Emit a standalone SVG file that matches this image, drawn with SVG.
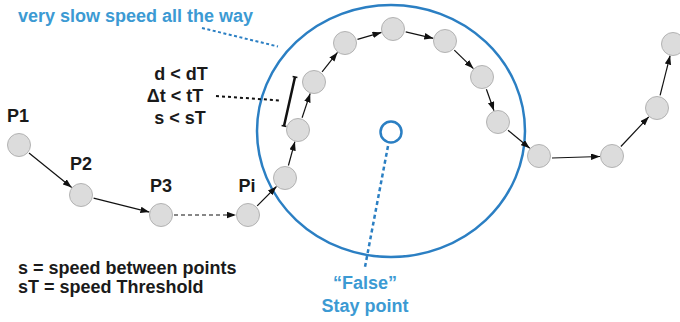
<svg xmlns="http://www.w3.org/2000/svg" width="680" height="322" viewBox="0 0 680 322">
  <defs>
    <marker id="arrow" markerUnits="userSpaceOnUse" markerWidth="10" markerHeight="7" refX="9" refY="3.25" orient="auto">
      <path d="M0,0 L9,3.25 L0,6.5 z" fill="#111"/>
    </marker>
    <style>
      .pt { fill: #dcdcdc; stroke: #b3b3b3; stroke-width: 1; }
      .edge { stroke: #111; stroke-width: 1.2; fill: none; marker-end: url(#arrow); }
      .lbl { font-family: "Liberation Sans", Arial, sans-serif; font-weight: bold; font-size: 18px; fill: #1a1a1a; }
      .blue { font-family: "Liberation Sans", Arial, sans-serif; font-weight: bold; font-size: 18px; fill: #3c9ad3; }
      .zone { fill: none; stroke: #2b7fc3; stroke-width: 2.5; }
    </style>
  </defs>

  <rect width="680" height="322" fill="#fff"/>

  <!-- stay-point region and its fake centre -->
  <g id="region">
    <ellipse class="zone" cx="391" cy="131" rx="134" ry="126"/>
  </g>
  <g id="false-stay-point">
    <circle cx="391" cy="132" r="10.5" fill="#fff" stroke="#2b7fc3" stroke-width="2.5"/>
    <text class="blue" x="365" y="289" text-anchor="middle">“False”</text>
    <text class="blue" x="365" y="312" text-anchor="middle">Stay point</text>
  </g>

  <!-- connectors -->
  <g id="connectors">
    <line class="edge" x1="29" y1="153" x2="71.7" y2="187.5"/>
    <line class="edge" x1="93.6" y1="198.2" x2="149.4" y2="212.1"/>
    <line class="edge" x1="174" y1="215" x2="236" y2="215" stroke-width="1.5" stroke-dasharray="4,3"/>
    <line class="edge" x1="257.2" y1="205.8" x2="276.5" y2="186.5"/>
    <line class="edge" x1="288.4" y1="165.5" x2="294.9" y2="141.6"/>
    <line class="edge" x1="302.1" y1="117.7" x2="310.2" y2="93.4"/>
    <line class="edge" x1="322.1" y1="71.8" x2="337.5" y2="52.4"/>
    <line class="edge" x1="357.5" y1="39.4" x2="381.5" y2="32.4"/>
    <line class="edge" x1="405.7" y1="31.9" x2="433.3" y2="38.3"/>
    <line class="edge" x1="454.3" y1="50.1" x2="473.4" y2="68.6"/>
    <line class="edge" x1="486.4" y1="89.2" x2="494" y2="110.7"/>
    <line class="edge" x1="508" y1="130.3" x2="529.8" y2="148.3"/>
    <line class="edge" x1="552" y1="158" x2="600" y2="156.5"/>
    <line class="edge" x1="620.9" y1="146.5" x2="648.8" y2="116.8"/>
    <line class="edge" x1="660.1" y1="95.4" x2="670.1" y2="55.6"/>

    <!-- callout leaders -->
    <line x1="202" y1="28" x2="278" y2="46.5" stroke="#2b7fc3" stroke-width="2" stroke-dasharray="3,2.5"/>
    <line x1="216" y1="96" x2="280" y2="100.5" stroke="#111" stroke-width="2" stroke-dasharray="3,3"/>
    <line x1="388" y1="146" x2="365" y2="267" stroke="#2b7fc3" stroke-width="2.5" stroke-dasharray="4,3"/>

    <!-- distance bar between consecutive points -->
    <g id="distance-bar" stroke="#111">
      <line x1="295" y1="77" x2="284" y2="126" stroke-width="2.5"/>
      <line x1="292.6" y1="76.5" x2="297.4" y2="77.5" stroke-width="1.5"/>
      <line x1="281.6" y1="125.5" x2="286.4" y2="126.5" stroke-width="1.5"/>
    </g>
  </g>

  <!-- trajectory points -->
  <g id="p1"><circle class="pt" cx="19" cy="145" r="11.5"/><text class="lbl" x="18" y="122" text-anchor="middle">P1</text></g>
  <g id="p2"><circle class="pt" cx="81" cy="195" r="11.5"/><text class="lbl" x="81" y="170" text-anchor="middle">P2</text></g>
  <g id="p3"><circle class="pt" cx="161" cy="215" r="11.5"/><text class="lbl" x="161" y="192" text-anchor="middle">P3</text></g>
  <g id="pi"><circle class="pt" cx="248" cy="215" r="11.5"/><text class="lbl" x="247" y="192" text-anchor="middle">Pi</text></g>
  <g id="q1"><circle class="pt" cx="285" cy="178" r="11.5"/></g>
  <g id="q2"><circle class="pt" cx="298" cy="130" r="11.5"/></g>
  <g id="q3"><circle class="pt" cx="314" cy="82" r="11.5"/></g>
  <g id="q4"><circle class="pt" cx="345" cy="43" r="11.5"/></g>
  <g id="q5"><circle class="pt" cx="393" cy="29" r="11.5"/></g>
  <g id="q6"><circle class="pt" cx="445" cy="41" r="11.5"/></g>
  <g id="q7"><circle class="pt" cx="482" cy="77" r="11.5"/></g>
  <g id="q8"><circle class="pt" cx="498" cy="122" r="11.5"/></g>
  <g id="q9"><circle class="pt" cx="539" cy="156" r="11.5"/></g>
  <g id="q10"><circle class="pt" cx="612" cy="156" r="11.5"/></g>
  <g id="q11"><circle class="pt" cx="657" cy="108" r="11.5"/></g>
  <g id="q12"><circle class="pt" cx="673" cy="44" r="11.5"/></g>

  <!-- annotations -->
  <g id="caption-top">
    <text class="blue" x="18" y="22">very slow speed all the way</text>
  </g>
  <g id="conditions">
    <text class="lbl" x="181" y="80" text-anchor="middle">d &lt; dT</text>
    <text class="lbl" x="175" y="102" text-anchor="middle">Δt &lt; tT</text>
    <text class="lbl" x="180" y="124" text-anchor="middle">s &lt; sT</text>
  </g>
  <g id="legend">
    <text class="lbl" x="18" y="274">s = speed between points</text>
    <text class="lbl" x="18" y="293">sT = speed Threshold</text>
  </g>
</svg>
